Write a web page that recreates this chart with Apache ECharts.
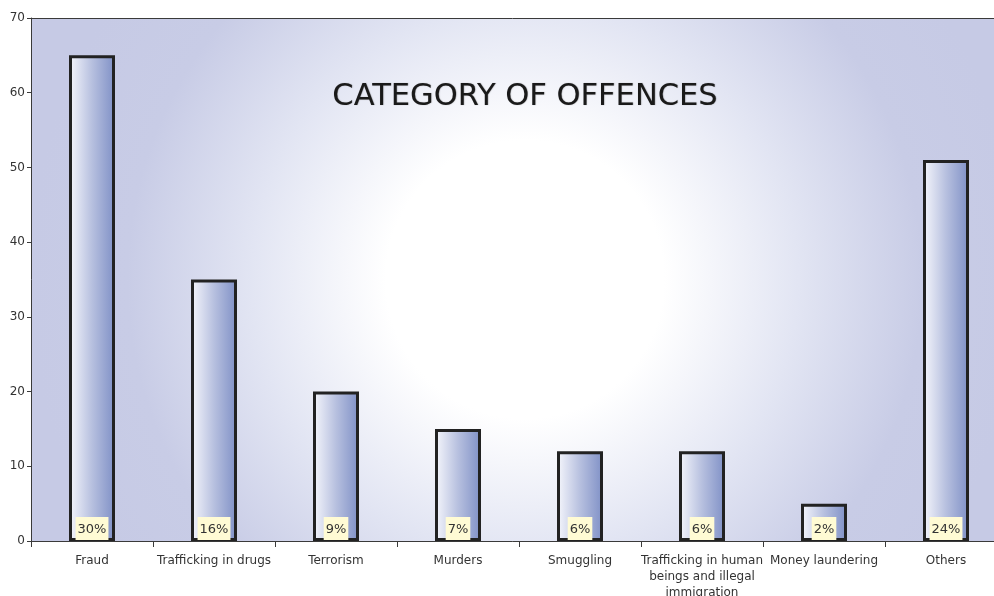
<!DOCTYPE html>
<html>
<head>
<meta charset="utf-8">
<script src="https://cdn.jsdelivr.net/npm/echarts@6/dist/echarts.min.js"></script>
<style>
  html, body { margin: 0; padding: 0; background: #ffffff; }
  #chart { width: 994px; height: 596px; }
</style>
</head>
<body>
<div id="chart"></div>
<script>
// Offence categories and their case counts
const categories = [
  'Fraud',
  'Trafficking in drugs',
  'Terrorism',
  'Murders',
  'Smuggling',
  'Trafficking in human beings and illegal immigration',
  'Money laundering',
  'Others'
];
const counts = [65, 35, 20, 15, 12, 12, 5, 51];
const yTicks = [0, 10, 20, 30, 40, 50, 60, 70];
const chartTitle = 'CATEGORY OF OFFENCES';

// Share of the total, shown at the foot of each bar
const total = counts.reduce((a, b) => a + b, 0);
const shares = counts.map(v => Math.round(v / total * 100) + '%');

const FONT = '"DejaVu Sans", Verdana, sans-serif';

const chart = echarts.init(document.getElementById('chart'));
chart.setOption({
  animation: false,
  backgroundColor: '#ffffff',
  grid: {
    left: 31,
    top: 18,
    bottom: 55,
    right: -13,
    outerBoundsMode: 'none',
    containLabel: false,
    show: true,
    borderWidth: 0,
    backgroundColor: {
      type: 'radial',
      x: 0.506, y: 0.5, r: 0.95,
      colorStops: [
        { offset: 0, color: '#ffffff' },
        { offset: 0.28, color: '#ffffff' },
        { offset: 0.55, color: '#e2e5f3' },
        { offset: 0.8, color: '#c8cce6' },
        { offset: 1, color: '#c6cae5' }
      ]
    }
  },
  graphic: [
    {
      type: 'line',
      shape: { x1: 31, y1: 18.5, x2: 994, y2: 18.5 },
      style: { stroke: '#3a3a3a', lineWidth: 1 },
      z: 10
    },
    {
      type: 'text',
      x: 525,
      y: 97,
      style: {
        text: chartTitle,
        font: '30.5px ' + FONT,
        fill: '#1a1a1a',
        align: 'center',
        verticalAlign: 'middle',
        textShadowColor: 'rgba(0,0,0,0.35)',
        textShadowBlur: 1,
        textShadowOffsetX: 0.5,
        textShadowOffsetY: 0.5
      },
      z: 10
    }
  ],
  xAxis: {
    type: 'category',
    data: categories,
    axisLine: { lineStyle: { color: '#3a3a3a', width: 1 } },
    axisTick: { show: true, length: 6, lineStyle: { color: '#3a3a3a' } },
    axisLabel: {
      interval: 0,
      color: '#333333',
      fontFamily: FONT,
      fontSize: 12,
      margin: 12,
      lineHeight: 16,
      width: 124,
      overflow: 'break'
    }
  },
  yAxis: {
    type: 'value',
    min: yTicks[0],
    max: yTicks[yTicks.length - 1],
    interval: 10,
    splitLine: { show: false },
    axisLine: { show: true, lineStyle: { color: '#3a3a3a', width: 1 } },
    axisTick: { show: true, length: 4, lineStyle: { color: '#3a3a3a' } },
    axisLabel: {
      color: '#333333',
      fontFamily: FONT,
      fontSize: 12,
      margin: 6
    }
  },
  series: [{
    type: 'bar',
    data: counts,
    barWidth: 46,
    itemStyle: {
      color: {
        type: 'linear',
        x: 0, y: 0, x2: 1, y2: 0,
        colorStops: [
          { offset: 0, color: '#f6f7fc' },
          { offset: 0.5, color: '#b7c0df' },
          { offset: 1, color: '#7f90c6' }
        ]
      },
      borderColor: '#222222',
      borderWidth: 3
    },
    label: {
      show: true,
      position: 'insideBottom',
      distance: 1,
      formatter: p => shares[p.dataIndex],
      color: '#333333',
      fontFamily: FONT,
      fontSize: 13,
      backgroundColor: '#fffbd4',
      padding: [6, 2, 4, 2]
    }
  }]
});
</script>
</body>
</html>
